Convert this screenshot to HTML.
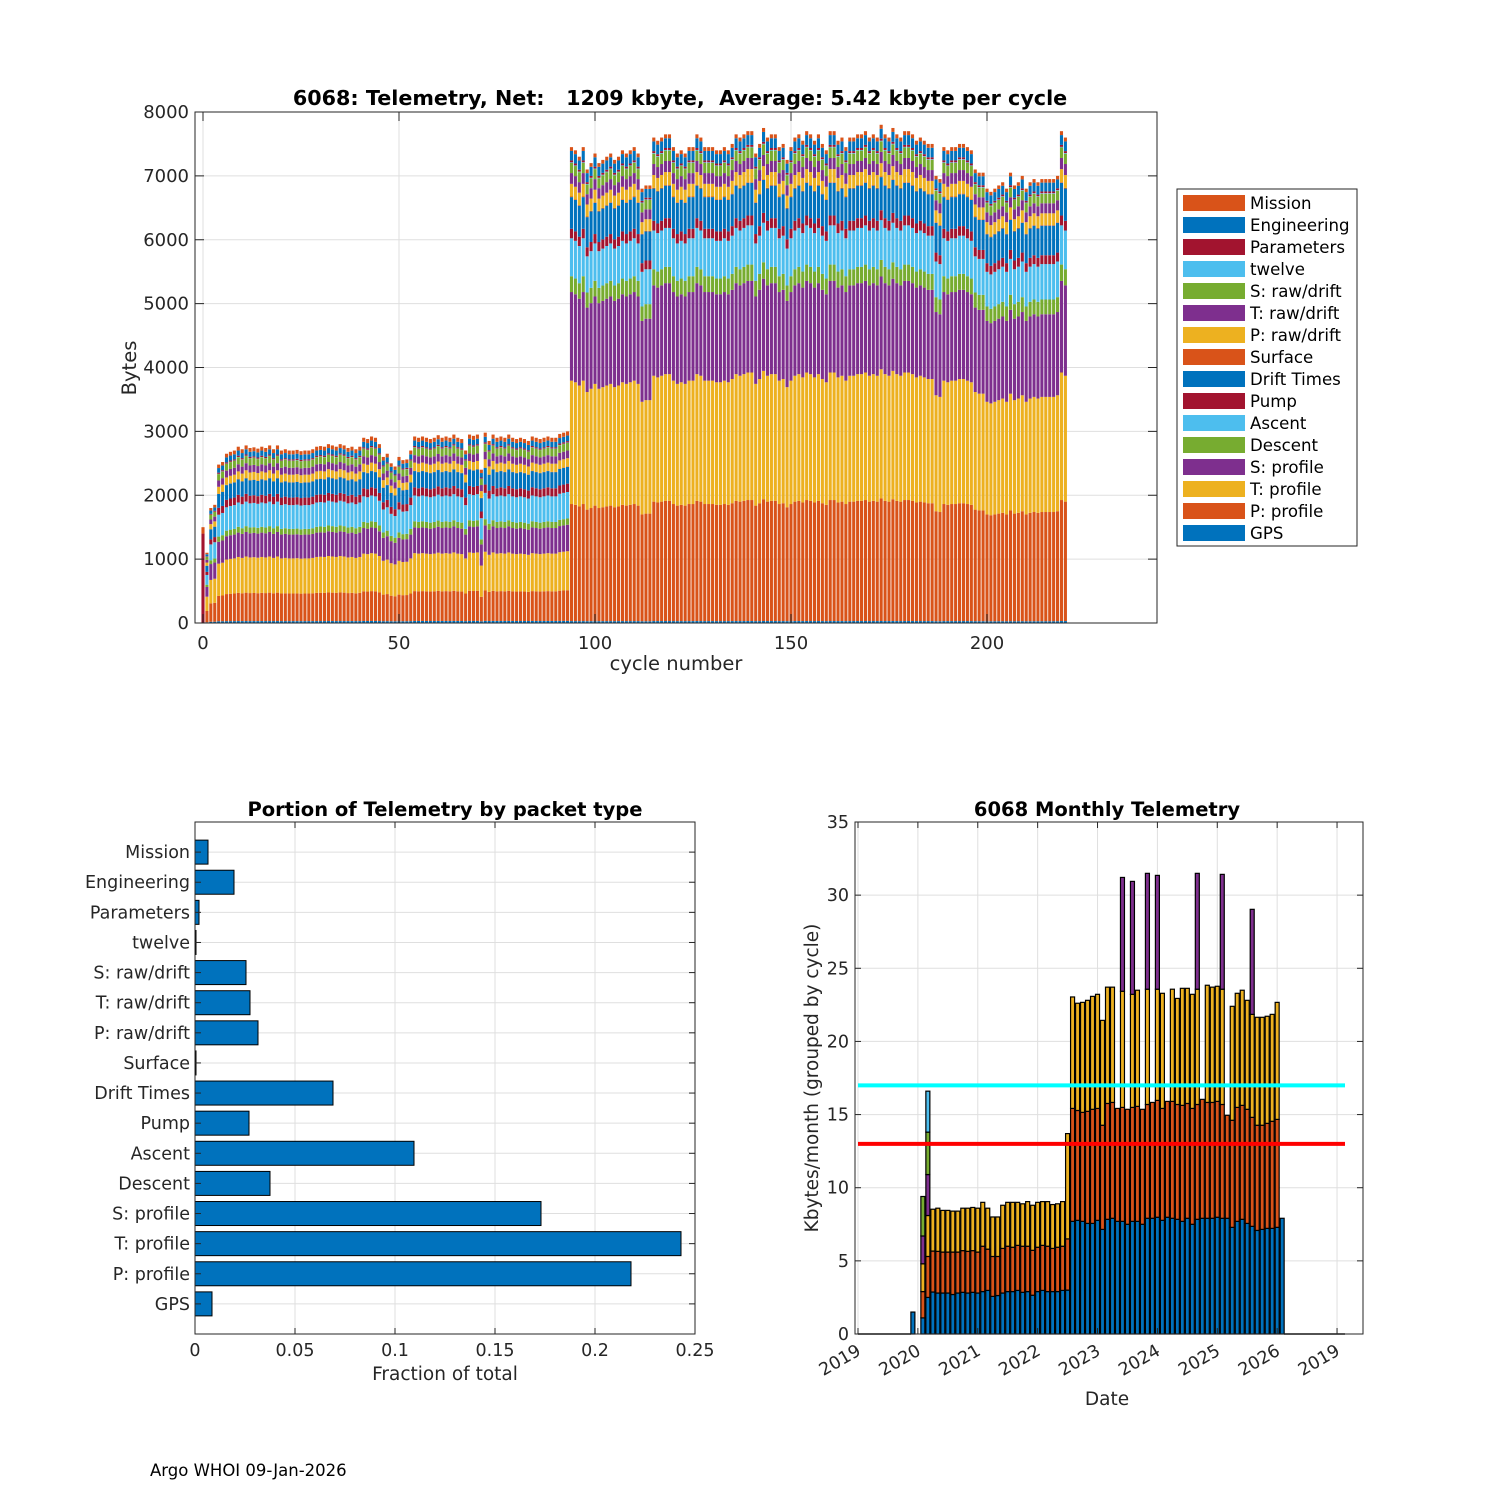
<!DOCTYPE html>
<html><head><meta charset="utf-8">
<style>
html,body{margin:0;padding:0;background:#fff;}
svg{display:block;font-family:"DejaVu Sans","Liberation Sans",sans-serif;}
</style></head>
<body>
<svg id="s" width="1500" height="1500" viewBox="0 0 1500 1500"></svg>
<script>
// ---------- data: top chart ----------
const seriesNames = ["GPS","P: profile","T: profile","S: profile","Descent","Ascent","Pump","Drift Times","Surface","P: raw/drift","T: raw/drift","S: raw/drift","twelve","Parameters","Engineering","Mission"];
const seriesColors = ["#0072BD","#D95319","#EDB120","#7E2F8E","#77AC30","#4DBEEE","#A2142F","#0072BD","#D95319","#EDB120","#7E2F8E","#77AC30","#4DBEEE","#A2142F","#0072BD","#D95319"];
const compLow = [30,440,560,380,90,380,120,240,5,120,110,110,5,20,80,60];
const compHigh = [30,1850,1950,1400,250,600,150,500,10,200,170,160,10,30,150,60];
const compStart = [0,0,0,0,0,0,0,0,0,0,0,0,0,1400,0,100];
const cycleTotals = [1500,1100,1800,1850,
2480,2520,2650,2680,2700,2760,2720,2780,2740,2750,2730,2760,2740,2780,2720,2780,2700,2720,2700,2700,2710,2690,2700,2700,2720,2760,2770,2760,2800,2780,2760,2800,2780,2740,2760,2720,2760,2900,2880,2920,2900,2800,2600,2650,2500,2450,2600,2550,2560,2700,2920,2900,2920,2900,2880,2900,2940,2900,2920,2900,2950,2900,2880,2700,2950,2930,2950,2400,2980,2850,2950,2900,2920,2900,2950,2900,2880,2900,2880,2850,2920,2900,2880,2900,2920,2900,2900,2960,2980,3000,
7450,7400,7300,7450,7100,7200,7350,7200,7250,7300,7350,7250,7300,7400,7350,7400,7450,7350,6800,6850,6850,7600,7550,7600,7650,7650,7450,7350,7400,7350,7450,7450,7650,7600,7450,7450,7450,7400,7400,7450,7400,7500,7650,7600,7650,7700,7700,7350,7500,7750,7600,7650,7650,7450,7500,7250,7450,7600,7650,7550,7700,7650,7550,7650,7500,7400,7700,7700,7550,7600,7450,7600,7600,7650,7650,7700,7600,7650,7600,7800,7650,7600,7750,7650,7600,7700,7700,7650,7550,7600,7550,7500,7500,7000,6950,7450,7400,7450,7450,7500,7500,7450,7400,7100,7050,7050,6800,6750,6800,6850,6900,6800,7050,6850,6900,7000,6800,6900,6950,6900,6950,6950,6950,6950,7000,7700,7600];
const topYTicks = [0,1000,2000,3000,4000,5000,6000,7000,8000];
const topXTicks = [0,50,100,150,200];

// ---------- data: fraction chart ----------
const fracNames = ["GPS","P: profile","T: profile","S: profile","Descent","Ascent","Pump","Drift Times","Surface","P: raw/drift","T: raw/drift","S: raw/drift","twelve","Parameters","Engineering","Mission"];
const fracValues = [0.0085,0.218,0.243,0.173,0.0375,0.1095,0.027,0.069,0.0005,0.0315,0.0275,0.0255,0.0005,0.002,0.0195,0.0065];
const fracXTicks = [0,0.05,0.1,0.15,0.2,0.25];
const fracXLabels = ["0","0.05","0.1","0.15","0.2","0.25"];

// ---------- data: monthly chart (months since Jan 2019, cumulative tops in kbytes) ----------
const monthIdx = [11,13,14];
const mBlueTop = [1.5,1.1,2.5];
const mOrangeTop = [1.5,2.9,5.3];
const mYellowTop = [1.5,4.8,8.1];
const mPurpleTop = [1.5,6.7,10.9];
const mGreenTop = [1.5,9.4,13.8];
const mCyanTop = [1.5,9.4,16.6];
const blueMain = [2.87,2.8,2.8,2.8,2.7,2.8,2.85,2.8,2.85,2.8,2.9,2.98,2.57,2.63,2.8,2.9,2.9,2.98,2.85,2.9,2.65,2.9,2.98,2.9,2.9,2.9,2.98,3.0,
7.70,7.77,7.70,7.56,7.56,7.77,7.15,7.84,7.91,7.70,7.70,7.50,7.70,7.70,7.50,7.91,7.91,7.98,7.77,7.98,7.91,7.84,7.70,7.91,7.50,7.84,7.91,7.91,7.91,7.98,7.91,7.91,7.29,7.70,7.84,7.56,7.36,7.08,7.15,7.22,7.22,7.29,7.91];
const orangeMain = [5.67,5.65,5.6,5.6,5.6,5.6,5.7,5.65,5.7,5.6,6.0,5.8,5.3,5.3,5.85,6.0,5.93,6.06,6.0,6.0,5.72,5.93,6.06,6.0,5.85,5.93,6.0,6.5,
15.42,15.28,15.15,15.22,15.36,15.42,14.27,15.76,15.83,15.42,15.49,15.36,15.49,15.56,15.36,15.69,15.83,15.97,15.42,15.90,15.90,15.69,15.63,15.76,15.42,15.69,16.04,15.83,15.83,15.90,15.69,14.95,14.61,15.49,15.63,15.36,14.81,14.27,14.27,14.40,14.54,14.67,7.91];
const yellowMain = [8.53,8.6,8.45,8.45,8.4,8.4,8.6,8.6,8.65,8.6,9.0,8.6,8.0,8.0,8.8,9.0,9.0,9.0,8.9,9.05,8.8,9.0,9.05,9.05,8.85,8.9,9.05,13.7,
23.04,22.61,22.67,22.81,23.08,23.22,21.44,23.71,23.71,15.42,23.43,15.36,23.22,23.50,15.36,23.57,15.83,23.57,23.29,15.90,23.57,22.94,23.63,23.63,23.22,23.57,16.04,23.84,23.71,23.77,23.57,14.95,22.40,23.29,23.50,22.81,21.85,21.65,21.65,21.72,21.85,22.67,7.91];
const purpleMain = [0,0,0,0,0,0,0,0,0,0,0,0,0,0,0,0,0,0,0,0,0,0,0,0,0,0,0,0,
0,0,0,0,0,0,0,0,0,0,31.21,0,30.94,0,0,31.49,0,31.35,0,0,0,0,0,0,0,31.49,0,0,0,0,31.42,0,0,0,0,0,29.03,0,0,0,0,0,0];
const mainStartMonth = 15;
const monthYTicks = [0,5,10,15,20,25,30,35];
const dateTickMonths = [0,12,24,36,48,60,72,84,96];
const dateTickLabels = ["2019","2020","2021","2022","2023","2024","2025","2026","2019"];
const refLines = [17,13];
const refColors = ["#00FFFF","#FF0000"];

// ---------- helpers ----------
const S = document.getElementById('s');
const NS = 'http://www.w3.org/2000/svg';
function mk(tag, attrs, parent){const e=document.createElementNS(NS,tag);for(const k in attrs)e.setAttribute(k,attrs[k]);(parent||S).appendChild(e);return e;}
function txt(str, attrs, parent){const e=mk('text',attrs,parent);e.textContent=str;return e;}

// ================= TOP CHART =================
const T = {l:195,r:1157,t:112,b:623};
const xT = c => 203 + c*3.92;
const yT = v => T.b - v*(T.b-T.t)/8000;
const gTop = mk('g',{});


mk('rect',{x:T.l,y:T.t,width:T.r-T.l,height:T.b-T.t,fill:'#fff'},gTop);
const gridT = mk('g',{stroke:'#dfdfdf','stroke-width':1},gTop);


topYTicks.forEach(v=>mk('line',{x1:T.l,x2:T.r,y1:yT(v),y2:yT(v)},gridT));
topXTicks.forEach(v=>mk('line',{x1:xT(v),x2:xT(v),y1:T.t,y2:T.b},gridT));
const barsT = mk('g',{},gTop);


cycleTotals.forEach((tot,c)=>{
  let comp = c===0 ? compStart : (tot>5000 ? compHigh : compLow);
  const sum = comp.reduce((a,b)=>a+b,0);
  let acc = 0;
  const g = mk('g',{},barsT);
  
  
  comp.forEach((p,i)=>{
    if(p<=0) return;
    const v = p/sum*tot;
    const y1 = yT(acc+v), y0 = yT(acc);
    const r = mk('rect',{x:xT(c)-1.55,y:y1,width:3.1,height:Math.max(0,y0-y1),fill:seriesColors[i]},g);
    
    
    acc += v;
  });
});
mk('rect',{x:T.l,y:T.t,width:T.r-T.l,height:T.b-T.t,fill:'none',stroke:'#262626','stroke-width':1},gTop);
const axT = mk('g',{fill:'#262626','font-size':18},gTop);


topYTicks.forEach(v=>{
  mk('line',{x1:T.l,x2:T.l+9,y1:yT(v),y2:yT(v),stroke:'#262626'},axT);
  mk('line',{x1:T.r,x2:T.r-9,y1:yT(v),y2:yT(v),stroke:'#262626'},axT);
  const t=txt(String(v),{x:T.l-6,y:yT(v)+6,'text-anchor':'end'},axT);
  
  
});
topXTicks.forEach(v=>{
  mk('line',{x1:xT(v),x2:xT(v),y1:T.b,y2:T.b-9,stroke:'#262626'},axT);
  mk('line',{x1:xT(v),x2:xT(v),y1:T.t,y2:T.t+9,stroke:'#262626'},axT);
  const t=txt(String(v),{x:xT(v),y:T.b+26,'text-anchor':'middle'},axT);
  
  
});
txt('6068: Telemetry, Net:   1209 kbyte,  Average: 5.42 kbyte per cycle',{x:680,y:105,'text-anchor':'middle','font-weight':'bold','font-size':20.7,fill:'#000',style:'white-space:pre',},gTop);
txt('cycle number',{x:676,y:670,'text-anchor':'middle','font-size':19.5,fill:'#262626',},gTop);
txt('Bytes',{x:0,y:0,transform:'translate(136,368) rotate(-90)','text-anchor':'middle','font-size':19.5,fill:'#262626',},gTop);
// legend
const lg = mk('g',{},gTop);


mk('rect',{x:1177,y:189,width:180,height:357,fill:'#fff',stroke:'#262626','stroke-width':1},lg);
for(let k=0;k<16;k++){
  const i = 15-k;
  const y = 203 + k*22;
  const e = mk('g',{},lg);
  
  
  mk('rect',{x:1183,y:y-8,width:62,height:16,fill:seriesColors[i]},e);
  txt(seriesNames[i],{x:1250,y:y+6,'font-size':16.6,fill:'#000'},e);
}

// ================= FRACTION CHART =================
const F = {l:195,r:695,t:822,b:1334};
const xF = f => F.l + f*2000;
const yF = i => F.b - i*(F.b-F.t)/17;
const gF = mk('g',{});


const gridF = mk('g',{stroke:'#dfdfdf'},gF);


fracXTicks.forEach(v=>mk('line',{x1:xF(v),x2:xF(v),y1:F.t,y2:F.b},gridF));
fracNames.forEach((n,i)=>mk('line',{x1:F.l,x2:F.r,y1:yF(i+1),y2:yF(i+1)},gridF));
fracValues.forEach((v,i)=>{
  const r = mk('rect',{x:F.l,y:yF(i+1)-12,width:xF(v)-F.l,height:24,fill:'#0072BD',stroke:'#000','stroke-width':1},gF);
  
  
});
mk('rect',{x:F.l,y:F.t,width:F.r-F.l,height:F.b-F.t,fill:'none',stroke:'#262626'},gF);
const axF = mk('g',{fill:'#262626','font-size':17.5},gF);
fracXTicks.forEach((v,k)=>{
  mk('line',{x1:xF(v),x2:xF(v),y1:F.b,y2:F.b-6,stroke:'#262626'},axF);
  mk('line',{x1:xF(v),x2:xF(v),y1:F.t,y2:F.t+6,stroke:'#262626'},axF);
  const t=txt(fracXLabels[k],{x:xF(v),y:F.b+22,'text-anchor':'middle'},axF);
  
  
});
fracNames.forEach((n,i)=>{
  mk('line',{x1:F.l,x2:F.l+6,y1:yF(i+1),y2:yF(i+1),stroke:'#262626'},axF);
  mk('line',{x1:F.r,x2:F.r-6,y1:yF(i+1),y2:yF(i+1),stroke:'#262626'},axF);
  const t=txt(n,{x:F.l-5,y:yF(i+1)+6,'text-anchor':'end'},axF);
  
  
});
txt('Portion of Telemetry by packet type',{x:445,y:816,'text-anchor':'middle','font-weight':'bold','font-size':19.5,fill:'#000',},gF);
txt('Fraction of total',{x:445,y:1380,'text-anchor':'middle','font-size':18.5,fill:'#262626',},gF);

// ================= MONTHLY CHART =================
const M = {l:855,r:1363,t:822,b:1334};
const xM = m => 858 + m*4.99;
const yM = v => M.b - v*(M.b-M.t)/35;
const gM = mk('g',{});


const gridM = mk('g',{stroke:'#dfdfdf'},gM);


monthYTicks.forEach(v=>mk('line',{x1:M.l,x2:M.r,y1:yM(v),y2:yM(v)},gridM));
dateTickMonths.forEach(m=>mk('line',{x1:xM(m),x2:xM(m),y1:M.t,y2:M.b},gridM));
const barsM = mk('g',{stroke:'#000','stroke-width':1.2},gM);


function seg(m,lo,hi,col){
  if(hi-lo<=0.001) return;
  const r = mk('rect',{x:xM(m)-2,y:yM(hi),width:4,height:yM(lo)-yM(hi),fill:col},barsM);
  
  
}
monthIdx.forEach((m,k)=>{
  seg(m,0,mBlueTop[k],'#0072BD');
  seg(m,mBlueTop[k],mOrangeTop[k],'#D95319');
  seg(m,mOrangeTop[k],mYellowTop[k],'#EDB120');
  seg(m,mYellowTop[k],mPurpleTop[k],'#7E2F8E');
  seg(m,mPurpleTop[k],mGreenTop[k],'#77AC30');
  seg(m,mGreenTop[k],mCyanTop[k],'#4DBEEE');
});
blueMain.forEach((b,k)=>{
  const m = mainStartMonth + k;
  seg(m,0,b,'#0072BD');
  seg(m,b,orangeMain[k],'#D95319');
  seg(m,orangeMain[k],yellowMain[k],'#EDB120');
  if(purpleMain[k]>0) seg(m,yellowMain[k],purpleMain[k],'#7E2F8E');
});
mk('line',{x1:858,x2:xM(monthIdx[0])-2,y1:yM(0),y2:yM(0),stroke:'#000','stroke-width':1.5},gM);
mk('line',{x1:xM(mainStartMonth+blueMain.length-1)+2,x2:1345,y1:yM(0),y2:yM(0),stroke:'#000','stroke-width':1.5},gM);
refLines.forEach((v,k)=>{
  const l = mk('line',{x1:858,x2:1345,y1:yM(v),y2:yM(v),stroke:refColors[k],'stroke-width':4},gM);
  
  
});
mk('rect',{x:M.l,y:M.t,width:M.r-M.l,height:M.b-M.t,fill:'none',stroke:'#262626'},gM);
const axM = mk('g',{fill:'#262626','font-size':17.5},gM);
monthYTicks.forEach(v=>{
  mk('line',{x1:M.l,x2:M.l+6,y1:yM(v),y2:yM(v),stroke:'#262626'},axM);
  mk('line',{x1:M.r,x2:M.r-6,y1:yM(v),y2:yM(v),stroke:'#262626'},axM);
  const t=txt(String(v),{x:M.l-6,y:yM(v)+6,'text-anchor':'end'},axM);
  
  
});
dateTickMonths.forEach((m,k)=>{
  mk('line',{x1:xM(m),x2:xM(m),y1:M.b,y2:M.b-6,stroke:'#262626'},axM);
  mk('line',{x1:xM(m),x2:xM(m),y1:M.t,y2:M.t+6,stroke:'#262626'},axM);
  const t=txt(dateTickLabels[k],{x:0,y:0,transform:'translate('+(xM(m)+4)+','+(M.b+20)+') rotate(-30)','text-anchor':'end'},axM);
  
  
});
txt('6068 Monthly Telemetry',{x:1107,y:816,'text-anchor':'middle','font-weight':'bold','font-size':19.5,fill:'#000',},gM);
txt('Date',{x:1107,y:1405,'text-anchor':'middle','font-size':18.5,fill:'#262626',},gM);
txt('Kbytes/month (grouped by cycle)',{x:0,y:0,transform:'translate(818,1078) rotate(-90)','text-anchor':'middle','font-size':18.5,fill:'#262626',},gM);

txt('Argo WHOI 09-Jan-2026',{x:150,y:1476,'font-size':16.5,fill:'#000',});
</script>
</body></html>
